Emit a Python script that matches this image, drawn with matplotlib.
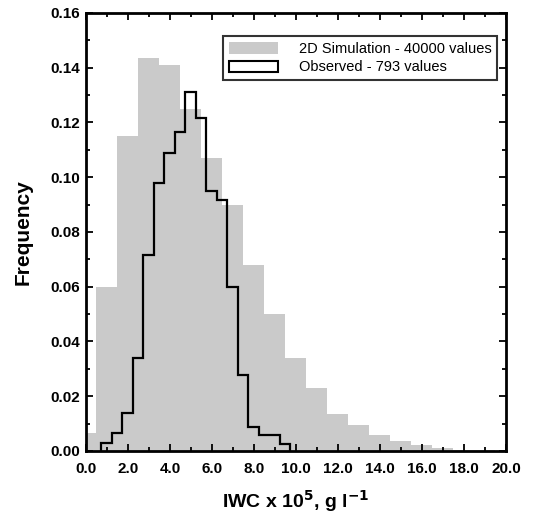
import matplotlib
matplotlib.use("Agg")
import matplotlib.pyplot as plt
from matplotlib.patches import Patch
from matplotlib.ticker import MultipleLocator, FormatStrFormatter

plt.rcParams['font.family'] = ['Liberation Sans', 'DejaVu Sans']

# 2D simulation histogram (grey bars)
sim_edges = [0.0, 0.5, 1.5, 2.5, 3.5, 4.5, 5.5, 6.5, 7.5, 8.5, 9.5, 10.5,
             11.5, 12.5, 13.5, 14.5, 15.5, 16.5, 17.5, 18.5, 19.5]
sim_freq = [0.0065, 0.060, 0.115, 0.1435, 0.141, 0.125, 0.107, 0.090,
            0.0678, 0.050, 0.034, 0.023, 0.0135, 0.0095, 0.0058, 0.0037,
            0.0023, 0.0011, 0.0005, 0.0002]

# observed histogram (black step line)
obs_edges = [0.72, 1.22, 1.72, 2.22, 2.72, 3.22, 3.72, 4.22, 4.72, 5.22,
             5.72, 6.22, 6.72, 7.22, 7.72, 8.22, 8.72, 9.22, 9.72]
obs_freq = [0.0028, 0.0065, 0.014, 0.034, 0.0715, 0.098, 0.109, 0.1165,
            0.131, 0.1215, 0.095, 0.0915, 0.060, 0.0277, 0.0088, 0.006,
            0.006, 0.0026]

grey = '#cacaca'

fig = plt.figure(figsize=(5.46, 5.13), dpi=100)
ax = fig.add_axes([0.1575, 0.1209, 0.7692, 0.8538])

ax.stairs(sim_freq, sim_edges, fill=True, color=grey, linewidth=0)
ax.stairs(obs_freq, obs_edges, baseline=0, color='black', linewidth=1.6)

ax.set_xlim(0, 20)
ax.set_ylim(0, 0.16)
ax.xaxis.set_major_locator(MultipleLocator(2))
ax.xaxis.set_minor_locator(MultipleLocator(1))
ax.yaxis.set_major_locator(MultipleLocator(0.02))
ax.yaxis.set_minor_locator(MultipleLocator(0.01))
ax.xaxis.set_major_formatter(FormatStrFormatter('%.1f'))
ax.yaxis.set_major_formatter(FormatStrFormatter('%.2f'))

ax.tick_params(which='both', direction='in', top=True, right=True, width=1.3)
ax.tick_params(which='major', length=5, labelsize=11)
ax.tick_params(which='minor', length=3)
ax.tick_params(axis='y', which='major', pad=4)
ax.tick_params(axis='x', which='major', pad=8)
for lab in ax.get_xticklabels() + ax.get_yticklabels():
    lab.set_fontweight('bold')
for s in ax.spines.values():
    s.set_linewidth(2)

ax.set_xlabel('IWC x 10$^{\\mathbf{5}}$, g l$^{\\mathbf{-1}}$', fontsize=14,
              fontweight='bold', labelpad=9)
ax.set_ylabel('Frequency', fontsize=15, fontweight='bold', labelpad=13)

handles = [Patch(facecolor=grey, edgecolor='none'),
           Patch(facecolor='white', edgecolor='black', linewidth=1.5)]
leg = ax.legend(handles, ['2D Simulation - 40000 values', 'Observed - 793 values'],
                loc='upper right', bbox_to_anchor=(0.979, 0.947), borderaxespad=0,
                fontsize=10.5, frameon=True, fancybox=False, edgecolor='black',
                handlelength=3.4, handleheight=0.8, handletextpad=1.4,
                borderpad=0.4, labelspacing=0.3)
leg.get_frame().set_linewidth(1.5)

fig.savefig('out.png', dpi=100)
